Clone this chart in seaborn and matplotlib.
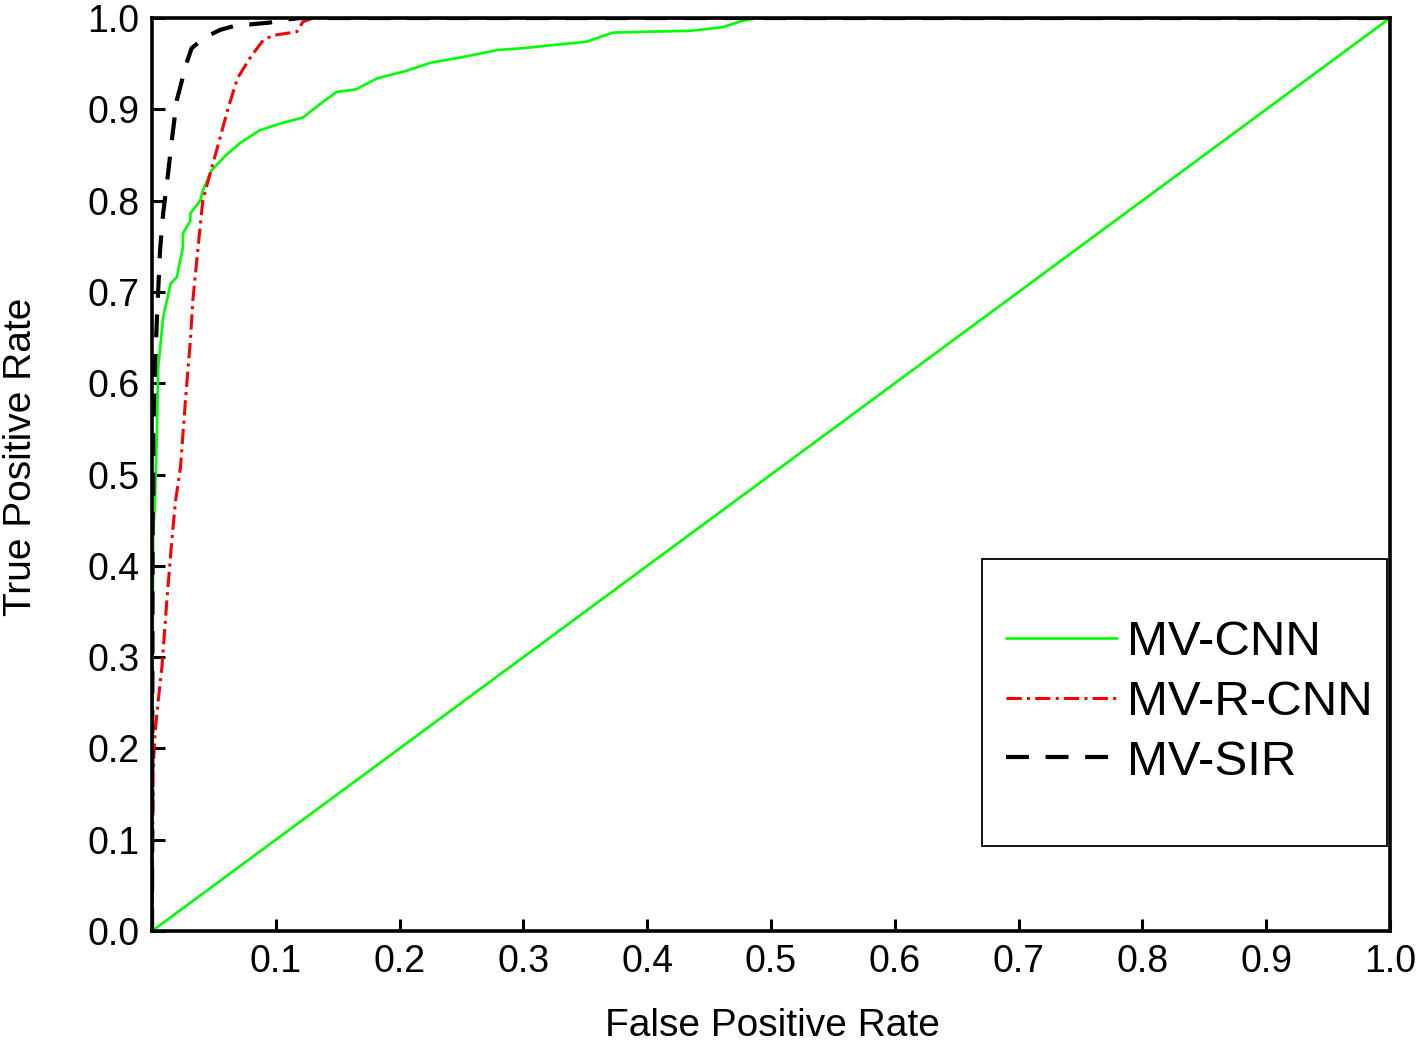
import matplotlib
matplotlib.use("Agg")
import matplotlib.pyplot as plt
import matplotlib.patches as mpatches
import seaborn as sns

# ROC curves
cnn_fpr = [0.0, 0.0005, 0.001, 0.0024, 0.004, 0.005, 0.009, 0.015, 0.020, 0.025, 0.025, 0.031,
           0.031, 0.039, 0.041, 0.048, 0.060, 0.071, 0.087, 0.105, 0.122, 0.135, 0.149, 0.165,
           0.182, 0.205, 0.225, 0.250, 0.279, 0.300, 0.321, 0.351, 0.372, 0.400, 0.435, 0.461,
           0.477, 0.490, 1.0]
cnn_tpr = [0.0, 0.30, 0.435, 0.471, 0.550, 0.617, 0.672, 0.709, 0.716, 0.749, 0.764, 0.778,
           0.786, 0.800, 0.811, 0.833, 0.850, 0.863, 0.877, 0.885, 0.891, 0.905, 0.919, 0.922,
           0.934, 0.942, 0.951, 0.957, 0.965, 0.967, 0.970, 0.974, 0.984, 0.985, 0.986, 0.990,
           0.997, 1.0, 1.0]

rcnn_fpr = [0.0, 0.001, 0.0024, 0.005, 0.008, 0.012, 0.016, 0.019, 0.023, 0.027, 0.031, 0.033,
            0.037, 0.041, 0.047, 0.053, 0.061, 0.069, 0.080, 0.090, 0.098, 0.117, 0.122, 0.130, 1.0]
rcnn_tpr = [0.0, 0.179, 0.216, 0.252, 0.289, 0.362, 0.428, 0.471, 0.508, 0.581, 0.647, 0.691,
            0.746, 0.800, 0.830, 0.859, 0.899, 0.934, 0.958, 0.976, 0.981, 0.985, 0.996, 1.0, 1.0]

sir_fpr = [0.0, 0.0005, 0.001, 0.001, 0.0024, 0.004, 0.0065, 0.009, 0.013, 0.016, 0.020, 0.028,
           0.032, 0.043, 0.055, 0.071, 0.079, 0.095, 0.106, 0.120, 1.0]
sir_tpr = [0.0, 0.450, 0.471, 0.545, 0.617, 0.672, 0.746, 0.786, 0.830, 0.866, 0.910, 0.951,
           0.967, 0.979, 0.987, 0.993, 0.993, 0.995, 0.998, 1.0, 1.0]

chance = [0.0, 1.0]

labels = ["MV-CNN", "MV-R-CNN", "MV-SIR"]
x_ticks = [0.1, 0.2, 0.3, 0.4, 0.5, 0.6, 0.7, 0.8, 0.9, 1.0]
y_ticks = [0.0, 0.1, 0.2, 0.3, 0.4, 0.5, 0.6, 0.7, 0.8, 0.9, 1.0]

sns.set_theme(style="white")
plt.rcParams["font.family"] = ["Liberation Sans", "DejaVu Sans"]
plt.rcParams["text.color"] = "black"
plt.rcParams["axes.labelcolor"] = "black"

fig = plt.figure(figsize=(14.18, 10.42), dpi=100)
ax = fig.add_axes([0.1072, 0.1065, 0.8731, 0.8762])

green = "#00ff00"
sns.lineplot(x=chance, y=chance, ax=ax, color=green, linewidth=1.9, legend=False)
l1 = sns.lineplot(x=cnn_fpr, y=cnn_tpr, ax=ax, color=green, linewidth=1.9,
                  sort=False, estimator=None).lines[-1]
l2 = sns.lineplot(x=rcnn_fpr, y=rcnn_tpr, ax=ax, color="#ff0000", linewidth=2.2,
                  sort=False, estimator=None, linestyle=(0, (5, 1.7, 1, 1.7))).lines[-1]
l3 = sns.lineplot(x=sir_fpr, y=sir_tpr, ax=ax, color="black", linewidth=3,
                  sort=False, estimator=None, linestyle=(0, (5.5, 4))).lines[-1]

ax.set_xlim(0, 1)
ax.set_ylim(0, 1)
ax.set_xticks(x_ticks)
ax.set_xticklabels([f"{t:.1f}" for t in x_ticks])
ax.set_yticks(y_ticks)
ax.set_yticklabels([f"{t:.1f}" for t in y_ticks])
ax.tick_params(direction="in", length=9, width=2.2, labelsize=27, colors="black",
               bottom=True, left=True, top=False, right=False)
ax.tick_params(axis="x", pad=9)
ax.tick_params(axis="y", pad=9)
for sp in ax.spines.values():
    sp.set_color("black")
    sp.set_linewidth(2.6)

ax.set_xlabel("False Positive Rate", fontsize=28)
ax.set_ylabel("True Positive Rate", fontsize=28)
ax.xaxis.set_label_coords(0.501, -0.0843)
ax.yaxis.set_label_coords(-0.0913, 0.519)

# legend box
ax.add_patch(mpatches.Rectangle((0.6704, 0.0931), 0.3272, 0.3144, transform=ax.transAxes,
                                fill=False, edgecolor="black", linewidth=1.3, zorder=4))
ax.legend([l1, l2, l3], labels, loc="center left", bbox_to_anchor=(0.6736, 0.2505),
          frameon=False, fontsize=35.5, handlelength=2.25, handletextpad=0.22,
          labelspacing=0.3, borderaxespad=0, borderpad=0.4)

fig.savefig("out.png", dpi=100)
